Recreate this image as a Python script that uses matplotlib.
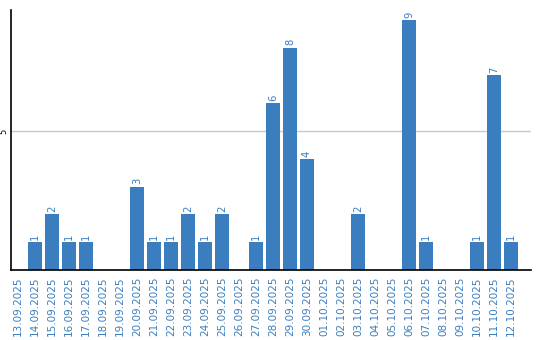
import matplotlib
matplotlib.use("Agg")
import matplotlib.pyplot as plt
import numpy as np

dates = ["13.09.2025", "14.09.2025", "15.09.2025", "16.09.2025", "17.09.2025",
         "18.09.2025", "19.09.2025", "20.09.2025", "21.09.2025", "22.09.2025",
         "23.09.2025", "24.09.2025", "25.09.2025", "26.09.2025", "27.09.2025",
         "28.09.2025", "29.09.2025", "30.09.2025", "01.10.2025", "02.10.2025",
         "03.10.2025", "04.10.2025", "05.10.2025", "06.10.2025", "07.10.2025",
         "08.10.2025", "09.10.2025", "10.10.2025", "11.10.2025", "12.10.2025"]
counts = [0, 1, 2, 1, 1, 0, 0, 3, 1, 1,
          2, 1, 2, 0, 1, 6, 8, 4, 0, 0,
          2, 0, 0, 9, 1, 0, 0, 1, 7, 1]
yticks = [5]

bar_color = "#3a7ebf"
text_color = "#3a7ebf"

fig = plt.figure(figsize=(5.4, 3.4), dpi=100)
ax = fig.add_axes([0.0204, 0.2059, 0.963, 0.7647])

x = np.arange(len(dates))
ax.bar(x, counts, width=0.82, color=bar_color, zorder=2)

# value labels above non-empty bars
for xi, c in zip(x, counts):
    if c > 0:
        ax.annotate(str(c), (xi, c), xytext=(0, 1.5), textcoords="offset points",
                    rotation=90, ha="center", va="bottom", fontsize=7.2,
                    color=text_color)

ax.set_xlim(-0.41, 30.18)
ax.set_ylim(0, 9.35)
ax.set_xticks(x)
ax.set_xticklabels(dates, rotation=90, fontsize=7.5, color=text_color)
ax.set_yticks(yticks)
ax.set_yticklabels([str(t) for t in yticks], rotation=90, fontsize=6,
                   va="center")
ax.tick_params(axis="x", length=0, pad=4.5)
ax.tick_params(axis="y", length=0, pad=2)
ax.yaxis.grid(True, color="#c8c8c8", linewidth=1, zorder=0)

for side in ["top", "right"]:
    ax.spines[side].set_visible(False)
ax.spines["left"].set_linewidth(1.2)
ax.spines["bottom"].set_linewidth(1.2)

fig.savefig("out.png", dpi=100)
